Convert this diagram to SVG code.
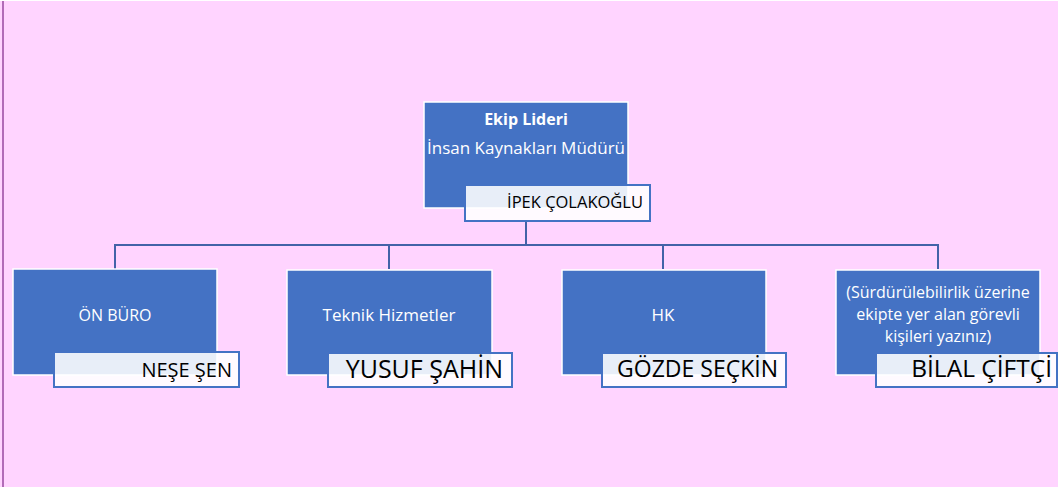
<svg xmlns="http://www.w3.org/2000/svg" width="1058" height="487" viewBox="0 0 1058 487">
<style>
.box{fill:#4472C4;stroke:#FFFFFF;stroke-width:1.5}
.name{fill:#FFFFFF;fill-opacity:0.88;stroke:#4472C4;stroke-width:2}
.lbl{font-family:"Open Sans","Liberation Sans",sans-serif;fill:#FFFFFF;text-anchor:middle}
.nm{font-family:"Open Sans","Liberation Sans",sans-serif;fill:#000000;text-anchor:end}
.conn{fill:none;stroke:#4263A8;stroke-width:2}
</style>
<rect x="0" y="0" width="1058" height="487" fill="#FFD4FF"/>
<rect x="0" y="0" width="1058" height="1" fill="#FFFFFF"/>
<rect x="2" y="1" width="2" height="486" fill="#B26BB8"/>
<g id="connectors">
<path class="conn" d="M526 221 V245 M115 269 V245 H938 V269 M389 245 V269 M663 245 V269"/>
</g>
<g id="node-lider">
<rect class="box" x="424" y="102" width="204" height="106"/>
<text class="lbl" x="526" y="125" font-size="16" font-weight="bold">Ekip Lideri</text>
<text class="lbl" x="526" y="154" font-size="17">İnsan Kaynakları Müdürü</text>
<rect class="name" x="465" y="185" width="185" height="36"/>
<text class="nm" x="643" y="208" font-size="16.5">İPEK ÇOLAKOĞLU</text>
</g>
<g id="node-onburo">
<rect class="box" x="13" y="269" width="204" height="106"/>
<text class="lbl" x="115" y="321" font-size="16">ÖN BÜRO</text>
<rect class="name" x="54" y="352" width="185" height="35"/>
<text class="nm" x="232" y="377" font-size="20">NEŞE ŞEN</text>
</g>
<g id="node-teknik">
<rect class="box" x="287" y="270" width="205" height="105"/>
<text class="lbl" x="389" y="321" font-size="17">Teknik Hizmetler</text>
<rect class="name" x="328" y="353" width="184" height="34"/>
<text class="nm" x="503" y="378" font-size="25">YUSUF ŞAHİN</text>
</g>
<g id="node-hk">
<rect class="box" x="562" y="270" width="204" height="105"/>
<text class="lbl" x="663" y="321" font-size="17">HK</text>
<rect class="name" x="602" y="353" width="184" height="34"/>
<text class="nm" x="778" y="377" font-size="23">GÖZDE SEÇKİN</text>
</g>
<g id="node-surdurulebilirlik">
<rect class="box" x="836" y="270" width="204" height="105"/>
<text class="lbl" x="938" y="298" font-size="16">(Sürdürülebilirlik üzerine</text>
<text class="lbl" x="938" y="320" font-size="16">ekipte yer alan görevli</text>
<text class="lbl" x="938" y="342" font-size="16">kişileri yazınız)</text>
<rect class="name" x="876" y="353" width="181" height="34"/>
<text class="nm" x="1052" y="377" font-size="24.5">BİLAL ÇİFTÇİ</text>
</g>
</svg>
